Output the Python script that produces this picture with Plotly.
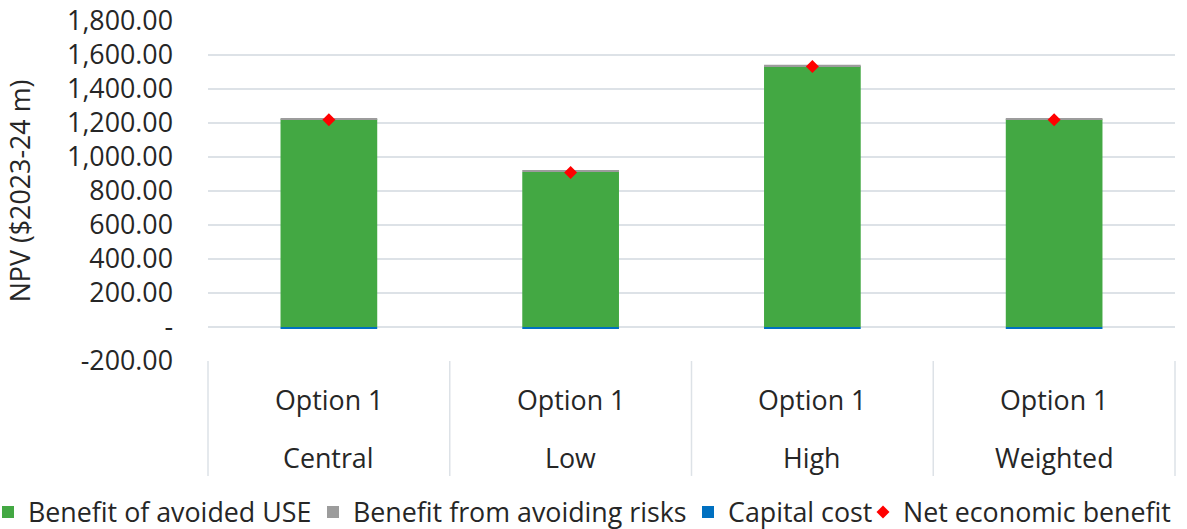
import plotly.graph_objects as go

scenarios = ["Central", "Low", "High", "Weighted"]
option_labels = ["Option 1", "Option 1", "Option 1", "Option 1"]
benefit_use = [1222, 912, 1535, 1222]
benefit_risks = [7, 7, 7, 7]
capital_cost = [-10, -10, -10, -10]
net_benefit = [u + r + c for u, r, c in zip(benefit_use, benefit_risks, capital_cost)]

y_ticks = [-200, 0, 200, 400, 600, 800, 1000, 1200, 1400, 1600, 1800]
y_ticktext = ["-200.00", "-", "200.00", "400.00", "600.00", "800.00", "1,000.00",
              "1,200.00", "1,400.00", "1,600.00", "1,800.00"]

FONT = "Open Sans"
FS = 26.8
TXT = "#262626"
GRID = "#dde2e7"
L, R = 208, 12
PW = 1187 - L - R

fig = go.Figure()
fig.add_bar(x=scenarios, y=benefit_use, name="Benefit of avoided USE",
            marker_color="#43a843", width=0.4, marker_line_width=0, legend="legend")
fig.add_bar(x=scenarios, y=benefit_risks, name="Benefit from avoiding risks",
            marker_color="#9c9c9c", width=0.4, marker_line_width=0, legend="legend2")
fig.add_bar(x=scenarios, y=capital_cost, name="Capital cost",
            marker_color="#0070c0", width=0.4, marker_line_width=0, legend="legend3")
fig.add_scatter(x=scenarios, y=net_benefit, mode="markers", name="Net economic benefit",
                marker=dict(symbol="diamond", color="#ff0000", size=10), legend="legend4")

# category box labels
for s, o in zip(scenarios, option_labels):
    fig.add_annotation(x=s, xref="x", y=-0.1147, yref="paper", text=o, showarrow=False,
                       font=dict(family=FONT, size=FS, color=TXT), yanchor="middle")
    fig.add_annotation(x=s, xref="x", y=-0.285, yref="paper", text=s, showarrow=False,
                       font=dict(family=FONT, size=FS, color=TXT), yanchor="middle")

# category box dividers
for xp in [0, 0.25, 0.5, 0.75, 1.0]:
    fig.add_shape(type="line", xref="paper", yref="paper", x0=xp, x1=xp, y0=0, y1=-0.338,
                  line=dict(color=GRID, width=1.5))

leg_common = dict(orientation="h", xref="paper", yref="container", xanchor="left",
                  y=0.032, yanchor="middle", bgcolor="rgba(0,0,0,0)",
                  font=dict(family=FONT, size=FS, color=TXT), itemwidth=30)
leg_x_px = [-12, 313, 688, 863]

fig.update_layout(
    width=1187, height=529,
    margin=dict(l=L, r=R, t=21, b=168, autoexpand=False),
    paper_bgcolor="white", plot_bgcolor="white",
    barmode="relative", bargap=0.6,
    font=dict(family=FONT, size=FS, color=TXT),
    showlegend=True,
    legend=dict(x=(leg_x_px[0] - L) / PW, **leg_common),
    legend2=dict(x=(leg_x_px[1] - L) / PW, **leg_common),
    legend3=dict(x=(leg_x_px[2] - L) / PW, **leg_common),
    legend4=dict(x=(leg_x_px[3] - L) / PW, **leg_common),
    xaxis=dict(showticklabels=False, showgrid=False, zeroline=False, showline=False,
               range=[-0.5, 3.5], automargin=False),
    yaxis=dict(range=[-200, 1800], tickvals=y_ticks, ticktext=y_ticktext, automargin=False,
               showgrid=True, gridcolor=GRID, gridwidth=1.5, zeroline=True,
               zerolinecolor=GRID, zerolinewidth=1.5, showline=False,
               ticklabelstandoff=34, tickfont=dict(family=FONT, size=FS, color=TXT),
               title=dict(text="NPV ($2023-24 m)", standoff=28,
                          font=dict(family=FONT, size=FS, color=TXT))),
)

fig.write_html("out.html")
